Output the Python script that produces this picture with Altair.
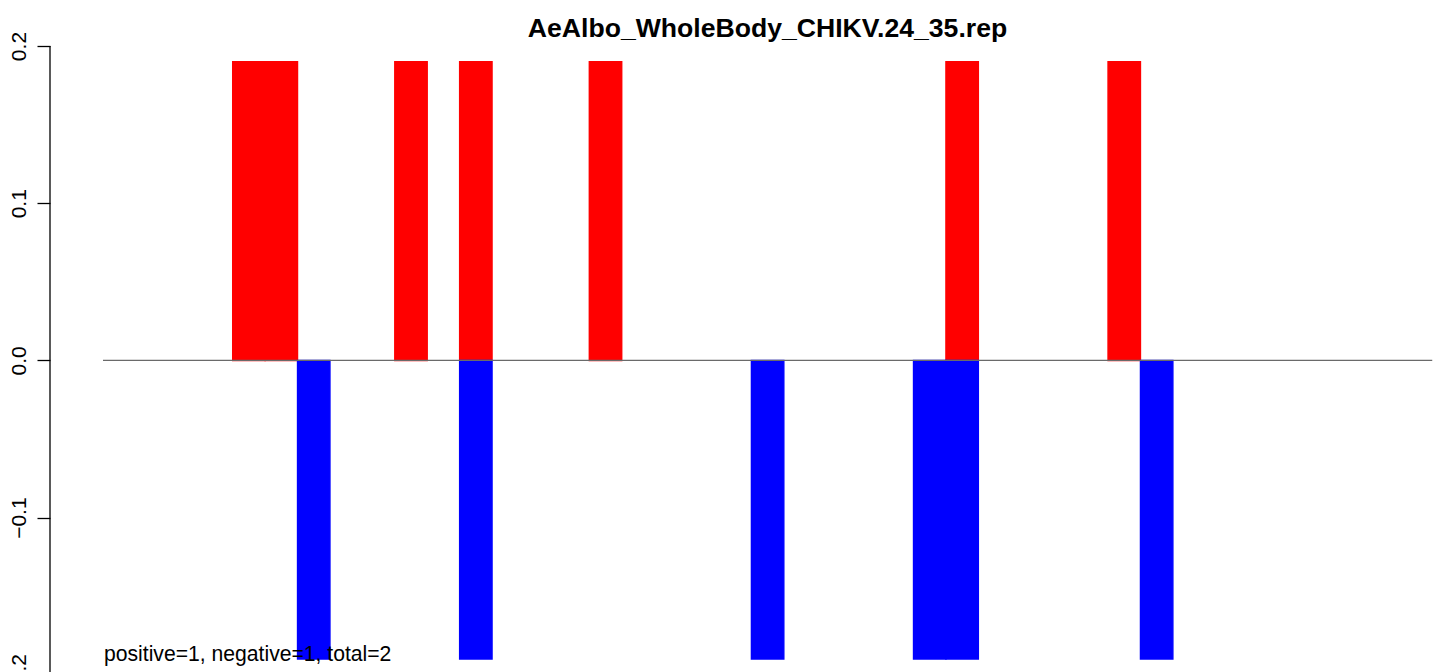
import altair as alt
import pandas as pd

# ---- data ----
title_text = "AeAlbo_WholeBody_CHIKV.24_35.rep"
note_text = "positive=1, negative=1, total=2"
n_slots = 41
pos_slots = [4, 5, 9, 11, 15, 26, 31]
pos_values = [0.19, 0.19, 0.19, 0.19, 0.19, 0.19, 0.19]
neg_slots = [6, 11, 20, 25, 26, 32]
neg_values = [-0.19, -0.19, -0.19, -0.19, -0.19, -0.19]
y_ticks = [-0.2, -0.1, 0.0, 0.1, 0.2]

bars = pd.DataFrame({
    "slot": pos_slots + neg_slots,
    "value": pos_values + neg_values,
    "sign": ["positive"] * len(pos_slots) + ["negative"] * len(neg_slots),
})
bars["slot_end"] = bars["slot"] + 1
bars["zero"] = 0.0

zero_line = pd.DataFrame({"x0": [0], "x1": [n_slots], "y": [0.0]})
axis_line = pd.DataFrame({"y0": [max(y_ticks)], "y1": [min(y_ticks)]})
# tick label that lies just below the visible plot area (only partly shown)
low_label = pd.DataFrame({"y": [min(y_ticks)], "t": ["\u22120.2"]})
title_df = pd.DataFrame({"t": [title_text]})
note_df = pd.DataFrame({"t": [note_text]})

W, H = 1386, 664
xscale = alt.Scale(domain=[-1.635, 41.116], nice=False, zero=False)
yscale = alt.Scale(domain=[-0.1982, 0.2242], nice=False, zero=False)

FONT = "Liberation Sans"
LABEL_PAD = 11.5
TICK = 13

color_scale = alt.Scale(domain=["positive", "negative"], range=["#FF0000", "#0000FF"])

rects = alt.Chart(bars).mark_rect(strokeWidth=1.4).encode(
    x=alt.X("slot:Q", scale=xscale, axis=None),
    x2="slot_end:Q",
    y=alt.Y("zero:Q", scale=yscale, axis=alt.Axis(
        values=y_ticks, domain=False, grid=False, title=None,
        tickSize=TICK, tickWidth=1.3, tickColor="black",
        labelAngle=270, labelAlign="center", labelBaseline="alphabetic",
        labelPadding=LABEL_PAD, labelFont=FONT, labelFontSize=21, labelColor="black",
        labelOverlap=False, labelBound=False, labelFlush=False,
        labelExpr="format(datum.value, '.1f')")),
    y2="value:Q",
    color=alt.Color("sign:N", scale=color_scale, legend=None),
    stroke=alt.Stroke("sign:N", scale=color_scale, legend=None),
)

zero_rule = alt.Chart(zero_line).mark_rule(color="#6a6a6a", strokeWidth=1.3).encode(
    x="x0:Q", x2="x1:Q", y="y:Q")

axis_rule = alt.Chart(axis_line).mark_rule(color="black", strokeWidth=1.3).encode(
    x=alt.value(0), y="y0:Q", y2="y1:Q")

low_text = alt.Chart(low_label).mark_text(
    font=FONT, fontSize=21, color="black", angle=270,
    align="center", baseline="alphabetic").encode(
    text="t:N", y="y:Q", x=alt.value(-(TICK + LABEL_PAD)))

title = alt.Chart(title_df).mark_text(
    font=FONT, fontSize=26.6, fontWeight="bold", color="black",
    align="center", baseline="alphabetic").encode(
    text="t:N", x=alt.value(717.5), y=alt.value(28.7))

note = alt.Chart(note_df).mark_text(
    font=FONT, fontSize=21.15, color="black", align="left", baseline="alphabetic").encode(
    text="t:N", x=alt.value(54), y=alt.value(653))

chart = alt.layer(rects, zero_rule, axis_rule, low_text, title, note).properties(
    width=W, height=H,
    autosize=alt.AutoSizeParams(type="none"),
    padding={"left": 42, "top": 0, "right": 0, "bottom": 0},
    background="white",
).configure_view(stroke=None)

chart.save("out.html", embed_options={"renderer": "svg", "actions": False})
